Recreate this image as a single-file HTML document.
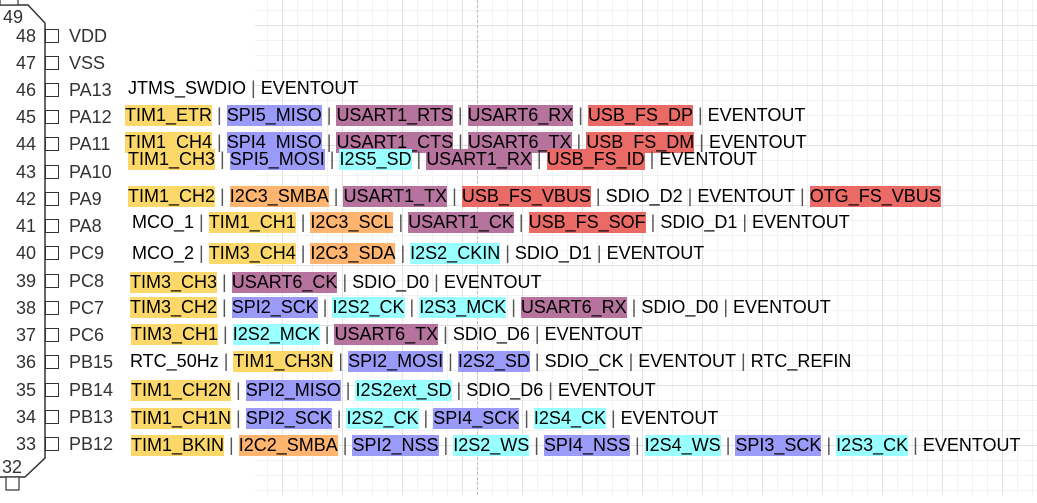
<!DOCTYPE html>
<html><head><meta charset="utf-8"><style>
html,body{margin:0;padding:0;background:#fff;width:1037px;height:503px;overflow:hidden;position:relative;font-family:"Liberation Sans",Arial,sans-serif}
.grid{position:absolute;left:255px;top:0;width:782px;height:495px;
background-image:
linear-gradient(to right,#e2e2e2 1px,transparent 1px),
linear-gradient(to bottom,#e2e2e2 1px,transparent 1px),
linear-gradient(to right,#f2f2f2 1px,transparent 1px),
linear-gradient(to bottom,#f2f2f2 1px,transparent 1px);
background-size:60px 60px,60px 60px,15px 15px,15px 15px;
background-position:27px 0,0 25px,12px 0,0 10px}
.dash{position:absolute;left:477px;top:0;height:495px;border-left:1px dashed #bbb}
.num{position:absolute;width:36px;text-align:right;left:0;font-size:18px;color:#333;line-height:20px}
.pin{position:absolute;left:69px;font-size:18px;color:#333;line-height:20px}
.box{position:absolute;left:45px;width:12px;height:12px;border:1.5px solid #333;background:#fff}
.row{position:absolute;white-space:nowrap;font-size:18px;line-height:21px;color:#000}
.row span{display:inline-block;line-height:21px;height:21px}
.s{color:#555}
.y{background:#fcd86a}.b{background:#9a9af8}.p{background:#b5739d}.r{background:#ea6b66}.c{background:#99ffff}.o{background:#ffb570}
</style></head><body>
<div class="grid"></div><div class="dash"></div>
<svg style="position:absolute;left:0;top:0" width="100" height="503">
<polyline points="0,5 28,5 45,23 45,458 25,477 0,477" fill="none" stroke="#333" stroke-width="1.5"/>
<rect x="0" y="-2" width="18" height="7" fill="#fff" stroke="#333" stroke-width="1.2"/>
<rect x="6" y="477" width="13" height="13" fill="#fff" stroke="#333" stroke-width="1.2"/>
</svg>
<div class="num" style="top:7px;left:-13px">49</div>
<div class="num" style="top:457px;left:-14px">32</div>

<div class="num" style="top:26px">48</div><div class="box" style="top:29px"></div><div class="pin" style="top:26px">VDD</div>
<div class="num" style="top:53px">47</div><div class="box" style="top:56px"></div><div class="pin" style="top:53px">VSS</div>
<div class="num" style="top:80px">46</div><div class="box" style="top:83px"></div><div class="pin" style="top:80px">PA13</div>
<div class="num" style="top:107px">45</div><div class="box" style="top:110px"></div><div class="pin" style="top:107px">PA12</div>
<div class="num" style="top:134px">44</div><div class="box" style="top:137px"></div><div class="pin" style="top:134px">PA11</div>
<div class="num" style="top:162px">43</div><div class="box" style="top:165px"></div><div class="pin" style="top:162px">PA10</div>
<div class="num" style="top:189px">42</div><div class="box" style="top:192px"></div><div class="pin" style="top:189px">PA9</div>
<div class="num" style="top:216px">41</div><div class="box" style="top:219px"></div><div class="pin" style="top:216px">PA8</div>
<div class="num" style="top:243px">40</div><div class="box" style="top:246px"></div><div class="pin" style="top:243px">PC9</div>
<div class="num" style="top:271px">39</div><div class="box" style="top:274px"></div><div class="pin" style="top:271px">PC8</div>
<div class="num" style="top:298px">38</div><div class="box" style="top:301px"></div><div class="pin" style="top:298px">PC7</div>
<div class="num" style="top:325px">37</div><div class="box" style="top:328px"></div><div class="pin" style="top:325px">PC6</div>
<div class="num" style="top:352px">36</div><div class="box" style="top:355px"></div><div class="pin" style="top:352px">PB15</div>
<div class="num" style="top:380px">35</div><div class="box" style="top:383px"></div><div class="pin" style="top:380px">PB14</div>
<div class="num" style="top:407px">34</div><div class="box" style="top:410px"></div><div class="pin" style="top:407px">PB13</div>
<div class="num" style="top:434px">33</div><div class="box" style="top:437px"></div><div class="pin" style="top:434px">PB12</div>

<div class="row" style="left:128px;top:78px"><span>JTMS_SWDIO</span><span class="s">&nbsp;|&nbsp;</span><span>EVENTOUT</span></div>
<div class="row" style="left:125px;top:105px"><span class="y">TIM1_ETR</span><span class="s">&nbsp;|&nbsp;</span><span class="b">SPI5_MISO</span><span class="s">&nbsp;|&nbsp;</span><span class="p">USART1_RTS</span><span class="s">&nbsp;|&nbsp;</span><span class="p">USART6_RX</span><span class="s">&nbsp;|&nbsp;</span><span class="r">USB_FS_DP</span><span class="s">&nbsp;|&nbsp;</span><span>EVENTOUT</span></div>
<div class="row" style="left:125px;top:132px"><span class="y">TIM1_CH4</span><span class="s">&nbsp;|&nbsp;</span><span class="b">SPI4_MISO</span><span class="s">&nbsp;|&nbsp;</span><span class="p">USART1_CTS</span><span class="s">&nbsp;|&nbsp;</span><span class="p">USART6_TX</span><span class="s">&nbsp;|&nbsp;</span><span class="r">USB_FS_DM</span><span class="s">&nbsp;|&nbsp;</span><span>EVENTOUT</span></div>
<div class="row" style="left:128px;top:149px"><span class="y">TIM1_CH3</span><span class="s">&nbsp;|&nbsp;</span><span class="b">SPI5_MOSI</span><span class="s">&nbsp;|&nbsp;</span><span class="c">I2S5_SD</span><span class="s">&nbsp;|&nbsp;</span><span class="p">USART1_RX</span><span class="s">&nbsp;|&nbsp;</span><span class="r">USB_FS_ID</span><span class="s">&nbsp;|&nbsp;</span><span>EVENTOUT</span></div>
<div class="row" style="left:128px;top:186px"><span class="y">TIM1_CH2</span><span class="s">&nbsp;|&nbsp;</span><span class="o">I2C3_SMBA</span><span class="s">&nbsp;|&nbsp;</span><span class="p">USART1_TX</span><span class="s">&nbsp;|&nbsp;</span><span class="r">USB_FS_VBUS</span><span class="s">&nbsp;|&nbsp;</span><span>SDIO_D2</span><span class="s">&nbsp;|&nbsp;</span><span>EVENTOUT</span><span class="s">&nbsp;|&nbsp;</span><span class="r">OTG_FS_VBUS</span></div>
<div class="row" style="left:132px;top:212px"><span>MCO_1</span><span class="s">&nbsp;|&nbsp;</span><span class="y">TIM1_CH1</span><span class="s">&nbsp;|&nbsp;</span><span class="o">I2C3_SCL</span><span class="s">&nbsp;|&nbsp;</span><span class="p">USART1_CK</span><span class="s">&nbsp;|&nbsp;</span><span class="r">USB_FS_SOF</span><span class="s">&nbsp;|&nbsp;</span><span>SDIO_D1</span><span class="s">&nbsp;|&nbsp;</span><span>EVENTOUT</span></div>
<div class="row" style="left:132px;top:243px"><span>MCO_2</span><span class="s">&nbsp;|&nbsp;</span><span class="y">TIM3_CH4</span><span class="s">&nbsp;|&nbsp;</span><span class="o">I2C3_SDA</span><span class="s">&nbsp;|&nbsp;</span><span class="c">I2S2_CKIN</span><span class="s">&nbsp;|&nbsp;</span><span>SDIO_D1</span><span class="s">&nbsp;|&nbsp;</span><span>EVENTOUT</span></div>
<div class="row" style="left:130px;top:272px"><span class="y">TIM3_CH3</span><span class="s">&nbsp;|&nbsp;</span><span class="p">USART6_CK</span><span class="s">&nbsp;|&nbsp;</span><span>SDIO_D0</span><span class="s">&nbsp;|&nbsp;</span><span>EVENTOUT</span></div>
<div class="row" style="left:130px;top:297px"><span class="y">TIM3_CH2</span><span class="s">&nbsp;|&nbsp;</span><span class="b">SPI2_SCK</span><span class="s">&nbsp;|&nbsp;</span><span class="c">I2S2_CK</span><span class="s">&nbsp;|&nbsp;</span><span class="c">I2S3_MCK</span><span class="s">&nbsp;|&nbsp;</span><span class="p">USART6_RX</span><span class="s">&nbsp;|&nbsp;</span><span>SDIO_D0</span><span class="s">&nbsp;|&nbsp;</span><span>EVENTOUT</span></div>
<div class="row" style="left:131px;top:324px"><span class="y">TIM3_CH1</span><span class="s">&nbsp;|&nbsp;</span><span class="c">I2S2_MCK</span><span class="s">&nbsp;|&nbsp;</span><span class="p">USART6_TX</span><span class="s">&nbsp;|&nbsp;</span><span>SDIO_D6</span><span class="s">&nbsp;|&nbsp;</span><span>EVENTOUT</span></div>
<div class="row" style="left:130px;top:351px"><span>RTC_50Hz</span><span class="s">&nbsp;|&nbsp;</span><span class="y">TIM1_CH3N</span><span class="s">&nbsp;|&nbsp;</span><span class="b">SPI2_MOSI</span><span class="s">&nbsp;|&nbsp;</span><span class="b">I2S2_SD</span><span class="s">&nbsp;|&nbsp;</span><span>SDIO_CK</span><span class="s">&nbsp;|&nbsp;</span><span>EVENTOUT</span><span class="s">&nbsp;|&nbsp;</span><span>RTC_REFIN</span></div>
<div class="row" style="left:131px;top:380px"><span class="y">TIM1_CH2N</span><span class="s">&nbsp;|&nbsp;</span><span class="b">SPI2_MISO</span><span class="s">&nbsp;|&nbsp;</span><span class="c">I2S2ext_SD</span><span class="s">&nbsp;|&nbsp;</span><span>SDIO_D6</span><span class="s">&nbsp;|&nbsp;</span><span>EVENTOUT</span></div>
<div class="row" style="left:131px;top:408px"><span class="y">TIM1_CH1N</span><span class="s">&nbsp;|&nbsp;</span><span class="b">SPI2_SCK</span><span class="s">&nbsp;|&nbsp;</span><span class="c">I2S2_CK</span><span class="s">&nbsp;|&nbsp;</span><span class="b">SPI4_SCK</span><span class="s">&nbsp;|&nbsp;</span><span class="c">I2S4_CK</span><span class="s">&nbsp;|&nbsp;</span><span>EVENTOUT</span></div>
<div class="row" style="left:131px;top:435px"><span class="y">TIM1_BKIN</span><span class="s">&nbsp;|&nbsp;</span><span class="o">I2C2_SMBA</span><span class="s">&nbsp;|&nbsp;</span><span class="b">SPI2_NSS</span><span class="s">&nbsp;|&nbsp;</span><span class="c">I2S2_WS</span><span class="s">&nbsp;|&nbsp;</span><span class="b">SPI4_NSS</span><span class="s">&nbsp;|&nbsp;</span><span class="c">I2S4_WS</span><span class="s">&nbsp;|&nbsp;</span><span class="b">SPI3_SCK</span><span class="s">&nbsp;|&nbsp;</span><span class="c">I2S3_CK</span><span class="s">&nbsp;|&nbsp;</span><span>EVENTOUT</span></div>
</body></html>
